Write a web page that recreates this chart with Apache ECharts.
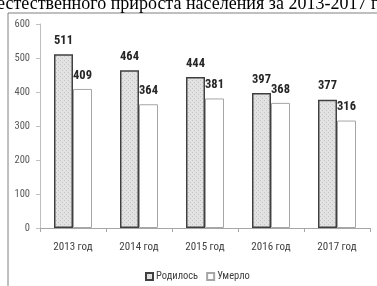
<!DOCTYPE html>
<html>
<head>
<meta charset="utf-8">
<script src="https://cdn.jsdelivr.net/npm/echarts@6/dist/echarts.min.js"></script>
<style>
  html, body { margin: 0; padding: 0; background: #fff; }
  #chart { width: 377px; height: 286px; }
</style>
</head>
<body>
<div id="chart"></div>
<script>
// данные с картинки
var years = ['2013 год', '2014 год', '2015 год', '2016 год', '2017 год'];
var born = [511, 464, 444, 397, 377];
var died = [409, 364, 381, 368, 316];
var seriesNames = ['Родилось', 'Умерло'];
var titleText = 'естественного прироста населения за 2013-2017 гг.';

// точечная заливка как в excel
function makePattern() {
  var c = document.createElement('canvas');
  c.width = 4; c.height = 4;
  var ctx = c.getContext('2d');
  ctx.fillStyle = '#e2e2e2';
  ctx.fillRect(0, 0, 4, 4);
  ctx.fillStyle = '#c4c4c4';
  ctx.fillRect(0, 0, 1, 1);
  ctx.fillRect(2, 2, 1, 1);
  return c;
}

var chart = echarts.init(document.getElementById('chart'));
var narrow = '"Roboto Condensed", sans-serif';

var valueLabel = {
  show: true,
  position: 'top',
  distance: 7,
  fontFamily: narrow,
  fontWeight: 'bold',
  fontSize: 12.5,
  color: '#262626'
};

var option = {
  animation: false,
  backgroundColor: '#fff',
  graphic: [
    {
      type: 'rect',
      shape: { x: 8, y: 13, width: 420, height: 320 },
      style: { fill: 'none', stroke: '#808080', lineWidth: 1 },
      silent: true
    },
    {
      type: 'text',
      left: -3,
      top: -5,
      style: {
        text: titleText,
        fill: '#000',
        font: '18px "Liberation Serif", "Times New Roman", serif'
      }
    }
  ],
  legend: {
    data: seriesNames,
    left: 140,
    top: 266,
    itemWidth: 7,
    itemHeight: 7,
    itemGap: 8,
    icon: 'rect',
    textStyle: { fontFamily: narrow, fontSize: 10.5, color: '#404040', padding: [0, 0, 0, -2] }
  },
  grid: { left: 40, right: 7, top: 24, bottom: 58 },
  xAxis: {
    type: 'category',
    data: years,
    axisLine: { lineStyle: { color: '#a6a6a6' } },
    axisTick: { show: true, length: 4, lineStyle: { color: '#a6a6a6' } },
    axisLabel: { margin: 14, fontFamily: narrow, fontSize: 11, color: '#404040' }
  },
  yAxis: {
    type: 'value',
    min: 0,
    max: 600,
    interval: 100,
    splitLine: { show: false },
    axisLine: { show: true, lineStyle: { color: '#bfbfbf' } },
    axisTick: { show: true, length: 4, lineStyle: { color: '#bfbfbf' } },
    axisLabel: { margin: 10, fontFamily: narrow, fontSize: 10.5, color: '#595959' }
  },
  series: [
    {
      name: seriesNames[0],
      type: 'bar',
      data: born,
      barWidth: 19,
      barGap: '0%',
      itemStyle: {
        color: { image: makePattern(), repeat: 'repeat' },
        borderColor: '#404040',
        borderWidth: 1.5
      },
      label: valueLabel
    },
    {
      name: seriesNames[1],
      type: 'bar',
      data: died,
      barWidth: 19,
      itemStyle: {
        color: '#fff',
        borderColor: '#a6a6a6',
        borderWidth: 1
      },
      label: valueLabel
    }
  ]
};
chart.setOption(option);
</script>
</body>
</html>
